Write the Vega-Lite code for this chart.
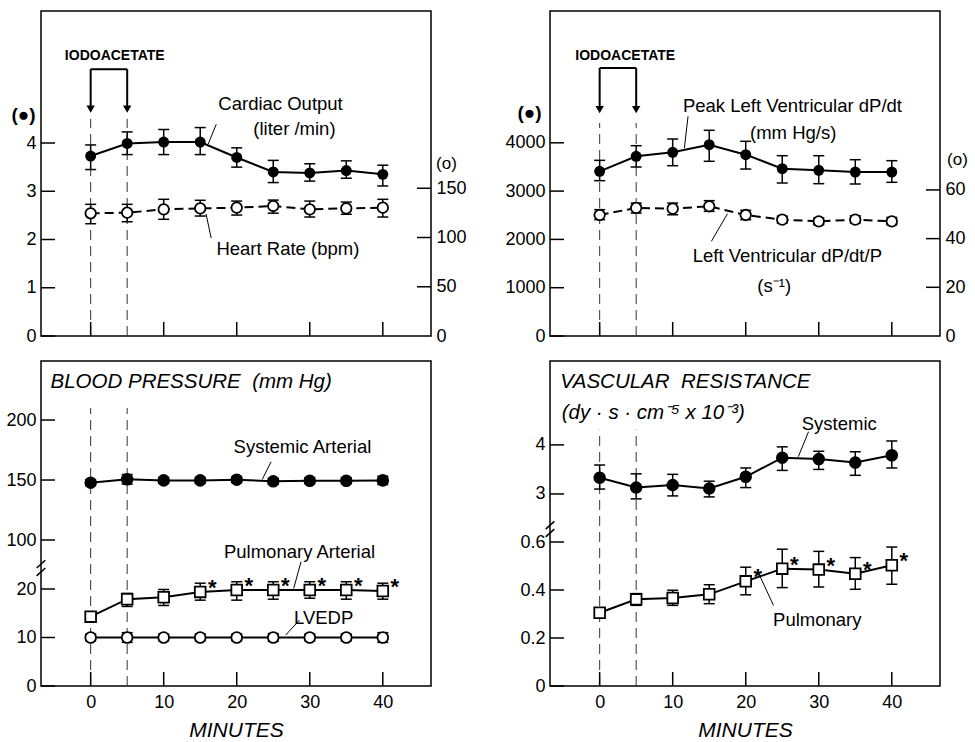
{
"$schema":"https://vega.github.io/schema/vega-lite/v6.json",
"padding":{"left":5,"top":10,"right":5,"bottom":2},
"bounds":"flush",
"columns":2,
"spacing":{"row":25,"column":119},
"datasets":{
"co":[{"t":0,"v":3.73,"lo":3.45,"hi":3.96},{"t":5,"v":3.99,"lo":3.76,"hi":4.23},{"t":10,"v":4.02,"lo":3.76,"hi":4.28},{"t":15,"v":4.02,"lo":3.76,"hi":4.32},{"t":20,"v":3.70,"lo":3.50,"hi":3.90},{"t":25,"v":3.40,"lo":3.18,"hi":3.64},{"t":30,"v":3.38,"lo":3.21,"hi":3.57},{"t":35,"v":3.43,"lo":3.27,"hi":3.63},{"t":40,"v":3.35,"lo":3.11,"hi":3.54}],
"hr":[{"t":0,"v":124.6,"lo":114,"hi":133.7},{"t":5,"v":125.2,"lo":116,"hi":133.7},{"t":10,"v":128.6,"lo":118.5,"hi":138.8},{"t":15,"v":129.6,"lo":121.8,"hi":137.8},{"t":20,"v":130.3,"lo":122.8,"hi":137},{"t":25,"v":132,"lo":124.7,"hi":138},{"t":30,"v":128.6,"lo":120.8,"hi":137},{"t":35,"v":129.6,"lo":123.6,"hi":136},{"t":40,"v":130.3,"lo":120.8,"hi":138.8}],
"dp":[{"t":0,"v":3410,"lo":3216,"hi":3637},{"t":5,"v":3720,"lo":3499,"hi":3940},{"t":10,"v":3803,"lo":3526,"hi":4079},{"t":15,"v":3961,"lo":3617,"hi":4259},{"t":20,"v":3754,"lo":3457,"hi":4031},{"t":25,"v":3464,"lo":3168,"hi":3733},{"t":30,"v":3430,"lo":3154,"hi":3733},{"t":35,"v":3395,"lo":3147,"hi":3650},{"t":40,"v":3395,"lo":3182,"hi":3630}],
"dpp":[{"t":0,"v":49.7,"lo":47.8,"hi":51.9},{"t":5,"v":52.6,"lo":50.5,"hi":54.6},{"t":10,"v":52.3,"lo":49.8,"hi":54.6},{"t":15,"v":53.3,"lo":51.2,"hi":55.6},{"t":20,"v":49.7,"lo":47.8,"hi":51.6},{"t":25,"v":47.8,"lo":46.4,"hi":49.2},{"t":30,"v":47.1,"lo":45.7,"hi":48.5},{"t":35,"v":47.8,"lo":46.4,"hi":49.4},{"t":40,"v":47.1,"lo":45.7,"hi":48.7}],
"bl":[
{"s":"sa","t":0,"v":147.8,"lo":145.3,"hi":150.3},{"s":"sa","t":5,"v":150.6,"lo":146.6,"hi":154.6},{"s":"sa","t":10,"v":149.7,"lo":147.2,"hi":152.2},{"s":"sa","t":15,"v":149.7,"lo":147.2,"hi":152.2},{"s":"sa","t":20,"v":150.3,"lo":147.8,"hi":152.8},{"s":"sa","t":25,"v":148.9,"lo":146.4,"hi":151.4},{"s":"sa","t":30,"v":149.4,"lo":146.9,"hi":151.9},{"s":"sa","t":35,"v":149.4,"lo":146.9,"hi":151.9},{"s":"sa","t":40,"v":149.7,"lo":146.2,"hi":153.2},
{"s":"pa","t":0,"v":14.3,"lo":13.6,"hi":15.0},{"s":"pa","t":5,"v":17.9,"lo":16.4,"hi":19.1},{"s":"pa","t":10,"v":18.3,"lo":16.6,"hi":19.9},{"s":"pa","t":15,"v":19.4,"lo":17.7,"hi":21.2},{"s":"pa","t":20,"v":19.8,"lo":17.7,"hi":21.5},{"s":"pa","t":25,"v":19.8,"lo":17.9,"hi":21.5},{"s":"pa","t":30,"v":19.8,"lo":18.1,"hi":21.5},{"s":"pa","t":35,"v":19.8,"lo":17.9,"hi":21.5},{"s":"pa","t":40,"v":19.6,"lo":17.9,"hi":21.2},
{"s":"lv","t":0,"v":10.0,"lo":9.3,"hi":10.7},{"s":"lv","t":5,"v":10.0,"lo":9.0,"hi":11.0},{"s":"lv","t":10,"v":10.0,"lo":9.3,"hi":10.7},{"s":"lv","t":15,"v":10.0,"lo":9.3,"hi":10.7},{"s":"lv","t":20,"v":10.0,"lo":9.3,"hi":10.7},{"s":"lv","t":25,"v":10.0,"lo":9.2,"hi":10.8},{"s":"lv","t":30,"v":10.0,"lo":9.3,"hi":10.7},{"s":"lv","t":35,"v":10.0,"lo":9.3,"hi":10.7},{"s":"lv","t":40,"v":10.0,"lo":9.0,"hi":11.0}],
"br":[
{"s":"sr","t":0,"v":3.33,"lo":3.10,"hi":3.59},{"s":"sr","t":5,"v":3.13,"lo":2.90,"hi":3.41},{"s":"sr","t":10,"v":3.18,"lo":2.96,"hi":3.40},{"s":"sr","t":15,"v":3.11,"lo":2.94,"hi":3.26},{"s":"sr","t":20,"v":3.35,"lo":3.13,"hi":3.53},{"s":"sr","t":25,"v":3.74,"lo":3.48,"hi":3.96},{"s":"sr","t":30,"v":3.71,"lo":3.50,"hi":3.87},{"s":"sr","t":35,"v":3.64,"lo":3.38,"hi":3.86},{"s":"sr","t":40,"v":3.79,"lo":3.53,"hi":4.08},
{"s":"pr","t":0,"v":0.305,"lo":0.295,"hi":0.315},{"s":"pr","t":5,"v":0.361,"lo":0.336,"hi":0.385},{"s":"pr","t":10,"v":0.367,"lo":0.336,"hi":0.399},{"s":"pr","t":15,"v":0.382,"lo":0.343,"hi":0.422},{"s":"pr","t":20,"v":0.436,"lo":0.380,"hi":0.495},{"s":"pr","t":25,"v":0.489,"lo":0.410,"hi":0.570},{"s":"pr","t":30,"v":0.485,"lo":0.4125,"hi":0.561},{"s":"pr","t":35,"v":0.468,"lo":0.403,"hi":0.535},{"s":"pr","t":40,"v":0.503,"lo":0.424,"hi":0.579}],
"xt":[{"t":0,"v":0},{"t":10,"v":0},{"t":20,"v":0},{"t":30,"v":0},{"t":40,"v":0}],
"tl_yt":[{"t":-6.8,"v":0},{"t":-6.8,"v":1},{"t":-6.8,"v":2},{"t":-6.8,"v":3},{"t":-6.8,"v":4}],
"tl_rt":[{"t":46.6,"v":50},{"t":46.6,"v":100},{"t":46.6,"v":150}],
"tr_yt":[{"t":-6.8,"v":0},{"t":-6.8,"v":1000},{"t":-6.8,"v":2000},{"t":-6.8,"v":3000},{"t":-6.8,"v":4000}],
"tr_rt":[{"t":46.6,"v":20},{"t":46.6,"v":40},{"t":46.6,"v":60}],
"bl_yt":[{"t":-6.8,"v":0},{"t":-6.8,"v":10},{"t":-6.8,"v":20},{"t":-6.8,"v":100},{"t":-6.8,"v":150},{"t":-6.8,"v":200}],
"br_yt":[{"t":-6.8,"v":0},{"t":-6.8,"v":0.2},{"t":-6.8,"v":0.4},{"t":-6.8,"v":0.6},{"t":-6.8,"v":3},{"t":-6.8,"v":4}],
"tl_dash":[{"t":0,"v":0,"v2":4.5},{"t":5,"v":0,"v2":4.5}],
"tl_bracket":[{"t":0,"v":5.53,"t2":5,"v2":5.53},{"t":0,"v":5.53,"t2":0,"v2":4.75},{"t":5,"v":5.53,"t2":5,"v2":4.75}],
"tl_arrow":[{"t":0,"v":4.7},{"t":5,"v":4.7}],
"tl_lead":[{"t":17.2,"v":4.39,"t2":16.1,"v2":3.98},{"t":15.8,"v":2.53,"t2":16.5,"v2":2.03}],
"tl_text":[{"t":26,"v":4.81,"label":"Cardiac Output"},{"t":27.9,"v":4.29,"label":"(liter /min)"},{"t":27,"v":1.80,"label":"Heart Rate (bpm)"}],
"tl_iodo":[{"t":3.3,"v":5.80,"label":"IODOACETATE"}],
"tr_dash":[{"t":0,"v":0,"v2":4410},{"t":5,"v":0,"v2":4410}],
"tr_bracket":[{"t":0,"v":5549,"t2":5,"v2":5549},{"t":0,"v":5549,"t2":0,"v2":4750},{"t":5,"v":5549,"t2":5,"v2":4750}],
"tr_arrow":[{"t":0,"v":4686},{"t":5,"v":4686}],
"tr_lead":[{"t":12.1,"v":4549,"t2":11.6,"v2":3892},{"t":17.5,"v":2532,"t2":15.3,"v2":1961}],
"tr_text":[{"t":26.4,"v":4762,"label":"Peak Left Ventricular dP/dt"},{"t":26.5,"v":4203,"label":"(mm Hg/s)"},{"t":25.7,"v":1656,"label":"Left Ventricular dP/dt/P"},{"t":23.9,"v":1035,"label":"(s⁻¹)"}],
"tr_iodo":[{"t":3.5,"v":5791,"label":"IODOACETATE"}],
"bl_dash":[{"t":0,"v":0,"v2":210},{"t":5,"v":0,"v2":210}],
"bl_lead":[{"t":24.7,"v":165.2,"t2":23.5,"v2":150.6},{"t":28.8,"v":81.9,"t2":27.8,"v2":20.1},{"t":28.6,"v":13.6,"t2":26.7,"v2":10.5}],
"bl_text":[{"t":29,"v":177.8,"label":"Systemic Arterial"},{"t":28.6,"v":90.3,"label":"Pulmonary Arterial"},{"t":31.9,"v":14.0,"label":"LVEDP"}],
"bl_head":[{"t":-5.5,"v":232,"label":"BLOOD PRESSURE \u00a0(mm Hg)"}],
"bl_break":[{"t":-6.8,"v":50}],
"br_dash":[{"t":0,"v":0,"v2":4.31},{"t":5,"v":0,"v2":4.31}],
"br_lead":[{"t":28.6,"v":4.27,"t2":27.2,"v2":3.76},{"t":23.8,"v":0.336,"t2":22.0,"v2":0.454}],
"br_text":[{"t":32.8,"v":4.43,"label":"Systemic"},{"t":29.8,"v":0.274,"label":"Pulmonary"}],
"br_head":[{"t":-5.4,"v":5.29,"label":"VASCULAR \u00a0RESISTANCE"},{"t":-5.2,"v":4.64,"label":"(dy · s · cm⁻⁵ x 10⁻³)"}],
"br_break":[{"t":-6.8,"v":1.5}]
},
"concat":[
{
"width":390,"height":325,
"encoding":{"x":{"field":"t","type":"quantitative","scale":{"domain":[-6.8,46.6],"nice":false,"zero":false},"axis":{"values":[0,10,20,30,40],"labels":false,"title":null}}},
"layer":[
 {"layer":[
  {"data":{"name":"tl_dash"},"mark":{"type":"rule","strokeDash":[10,6],"strokeWidth":1,"color":"#333"},"encoding":{"y":{"field":"v","type":"quantitative","scale":{"domain":[0,6.736],"nice":false,"zero":false},"axis":{"values":[0,1,2,3,4],"title":"(●)","titleAngle":0,"titleX":-18,"titleY":103,"titleAlign":"center","titleBaseline":"middle","titleFontSize":19,"titleFontWeight":"bold"}},"y2":{"field":"v2"}}},
  {"data":{"name":"tl_yt"},"mark":{"type":"point","shape":"M0,0L1,0","size":784,"filled":false,"stroke":"black","strokeWidth":1.5,"opacity":1},"encoding":{"y":{"field":"v","type":"quantitative","scale":{"domain":[0,6.736],"nice":false,"zero":false},"axis":{"values":[0,1,2,3,4],"title":"(●)","titleAngle":0,"titleX":-18,"titleY":103,"titleAlign":"center","titleBaseline":"middle","titleFontSize":19,"titleFontWeight":"bold"}}}},
  {"data":{"name":"xt"},"mark":{"type":"point","shape":"M0,0L0,-1","size":784,"filled":false,"stroke":"black","strokeWidth":1.5,"opacity":1},"encoding":{"y":{"field":"v","type":"quantitative","scale":{"domain":[0,6.736],"nice":false,"zero":false},"axis":{"values":[0,1,2,3,4],"title":"(●)","titleAngle":0,"titleX":-18,"titleY":103,"titleAlign":"center","titleBaseline":"middle","titleFontSize":19,"titleFontWeight":"bold"}}}},
  {"data":{"name":"tl_bracket"},"mark":{"type":"rule","strokeWidth":2,"color":"black"},"encoding":{"x2":{"field":"t2"},"y":{"field":"v","type":"quantitative","scale":{"domain":[0,6.736],"nice":false,"zero":false},"axis":{"values":[0,1,2,3,4],"title":"(●)","titleAngle":0,"titleX":-18,"titleY":103,"titleAlign":"center","titleBaseline":"middle","titleFontSize":19,"titleFontWeight":"bold"}},"y2":{"field":"v2"}}},
  {"data":{"name":"tl_arrow"},"mark":{"type":"point","shape":"triangle-down","filled":true,"color":"black","size":70,"opacity":1},"encoding":{"y":{"field":"v","type":"quantitative","scale":{"domain":[0,6.736],"nice":false,"zero":false},"axis":{"values":[0,1,2,3,4],"title":"(●)","titleAngle":0,"titleX":-18,"titleY":103,"titleAlign":"center","titleBaseline":"middle","titleFontSize":19,"titleFontWeight":"bold"}}}},
  {"data":{"name":"tl_lead"},"mark":{"type":"rule","strokeWidth":1,"color":"black"},"encoding":{"x2":{"field":"t2"},"y":{"field":"v","type":"quantitative","scale":{"domain":[0,6.736],"nice":false,"zero":false},"axis":{"values":[0,1,2,3,4],"title":"(●)","titleAngle":0,"titleX":-18,"titleY":103,"titleAlign":"center","titleBaseline":"middle","titleFontSize":19,"titleFontWeight":"bold"}},"y2":{"field":"v2"}}},
  {"data":{"name":"co"},"mark":{"type":"line","strokeWidth":2,"color":"black"},"encoding":{"y":{"field":"v","type":"quantitative","scale":{"domain":[0,6.736],"nice":false,"zero":false},"axis":{"values":[0,1,2,3,4],"title":"(●)","titleAngle":0,"titleX":-18,"titleY":103,"titleAlign":"center","titleBaseline":"middle","titleFontSize":19,"titleFontWeight":"bold"}}}},
  {"data":{"name":"co"},"mark":{"type":"rule","strokeWidth":1.5,"color":"black"},"encoding":{"y":{"field":"lo","type":"quantitative","scale":{"domain":[0,6.736],"nice":false,"zero":false},"axis":{"values":[0,1,2,3,4],"title":"(●)","titleAngle":0,"titleX":-18,"titleY":103,"titleAlign":"center","titleBaseline":"middle","titleFontSize":19,"titleFontWeight":"bold"}},"y2":{"field":"hi"}}},
  {"data":{"name":"co"},"mark":{"type":"point","shape":"M-1,0L1,0","size":121,"filled":false,"stroke":"black","strokeWidth":1.5,"opacity":1},"encoding":{"y":{"field":"lo","type":"quantitative","scale":{"domain":[0,6.736],"nice":false,"zero":false},"axis":{"values":[0,1,2,3,4],"title":"(●)","titleAngle":0,"titleX":-18,"titleY":103,"titleAlign":"center","titleBaseline":"middle","titleFontSize":19,"titleFontWeight":"bold"}}}},
  {"data":{"name":"co"},"mark":{"type":"point","shape":"M-1,0L1,0","size":121,"filled":false,"stroke":"black","strokeWidth":1.5,"opacity":1},"encoding":{"y":{"field":"hi","type":"quantitative","scale":{"domain":[0,6.736],"nice":false,"zero":false},"axis":{"values":[0,1,2,3,4],"title":"(●)","titleAngle":0,"titleX":-18,"titleY":103,"titleAlign":"center","titleBaseline":"middle","titleFontSize":19,"titleFontWeight":"bold"}}}},
  {"data":{"name":"co"},"mark":{"type":"point","shape":"circle","size":120,"filled":true,"color":"black","opacity":1},"encoding":{"y":{"field":"v","type":"quantitative","scale":{"domain":[0,6.736],"nice":false,"zero":false},"axis":{"values":[0,1,2,3,4],"title":"(●)","titleAngle":0,"titleX":-18,"titleY":103,"titleAlign":"center","titleBaseline":"middle","titleFontSize":19,"titleFontWeight":"bold"}}}},
  {"data":{"name":"tl_text"},"mark":{"type":"text","fontSize":18.5,"align":"center","baseline":"middle"},"encoding":{"y":{"field":"v","type":"quantitative","scale":{"domain":[0,6.736],"nice":false,"zero":false},"axis":{"values":[0,1,2,3,4],"title":"(●)","titleAngle":0,"titleX":-18,"titleY":103,"titleAlign":"center","titleBaseline":"middle","titleFontSize":19,"titleFontWeight":"bold"}},"text":{"field":"label"}}},
  {"data":{"name":"tl_iodo"},"mark":{"type":"text","fontSize":14,"fontWeight":"bold","align":"center","baseline":"middle"},"encoding":{"y":{"field":"v","type":"quantitative","scale":{"domain":[0,6.736],"nice":false,"zero":false},"axis":{"values":[0,1,2,3,4],"title":"(●)","titleAngle":0,"titleX":-18,"titleY":103,"titleAlign":"center","titleBaseline":"middle","titleFontSize":19,"titleFontWeight":"bold"}},"text":{"field":"label"}}}
 ]},
 {"layer":[
  {"data":{"name":"hr"},"mark":{"type":"line","strokeWidth":2,"color":"black","strokeDash":[9,5]},"encoding":{"y":{"field":"v","type":"quantitative","scale":{"domain":[0,330],"nice":false,"zero":false},"axis":{"orient":"right","values":[0,50,100,150],"title":"(o)","titleAngle":0,"titleX":15,"titleY":152,"titleAlign":"center","titleBaseline":"middle","titleFontSize":17}}}},
  {"data":{"name":"tl_rt"},"mark":{"type":"point","shape":"M0,0L-1,0","size":784,"filled":false,"stroke":"black","strokeWidth":1.5,"opacity":1},"encoding":{"y":{"field":"v","type":"quantitative","scale":{"domain":[0,330],"nice":false,"zero":false},"axis":{"orient":"right","values":[0,50,100,150],"title":"(o)","titleAngle":0,"titleX":15,"titleY":152,"titleAlign":"center","titleBaseline":"middle","titleFontSize":17}}}},
  {"data":{"name":"hr"},"mark":{"type":"rule","strokeWidth":1.5,"color":"black"},"encoding":{"y":{"field":"lo","type":"quantitative","scale":{"domain":[0,330],"nice":false,"zero":false},"axis":{"orient":"right","values":[0,50,100,150],"title":"(o)","titleAngle":0,"titleX":15,"titleY":152,"titleAlign":"center","titleBaseline":"middle","titleFontSize":17}},"y2":{"field":"hi"}}},
  {"data":{"name":"hr"},"mark":{"type":"point","shape":"M-1,0L1,0","size":121,"filled":false,"stroke":"black","strokeWidth":1.5,"opacity":1},"encoding":{"y":{"field":"lo","type":"quantitative","scale":{"domain":[0,330],"nice":false,"zero":false},"axis":{"orient":"right","values":[0,50,100,150],"title":"(o)","titleAngle":0,"titleX":15,"titleY":152,"titleAlign":"center","titleBaseline":"middle","titleFontSize":17}}}},
  {"data":{"name":"hr"},"mark":{"type":"point","shape":"M-1,0L1,0","size":121,"filled":false,"stroke":"black","strokeWidth":1.5,"opacity":1},"encoding":{"y":{"field":"hi","type":"quantitative","scale":{"domain":[0,330],"nice":false,"zero":false},"axis":{"orient":"right","values":[0,50,100,150],"title":"(o)","titleAngle":0,"titleX":15,"titleY":152,"titleAlign":"center","titleBaseline":"middle","titleFontSize":17}}}},
  {"data":{"name":"hr"},"mark":{"type":"point","shape":"circle","size":110,"filled":true,"fill":"white","stroke":"black","strokeWidth":1.8,"opacity":1},"encoding":{"y":{"field":"v","type":"quantitative","scale":{"domain":[0,330],"nice":false,"zero":false},"axis":{"orient":"right","values":[0,50,100,150],"title":"(o)","titleAngle":0,"titleX":15,"titleY":152,"titleAlign":"center","titleBaseline":"middle","titleFontSize":17}}}}
 ]}
],
"resolve":{"scale":{"y":"independent"}}
},
{
"width":390,"height":325,
"encoding":{"x":{"field":"t","type":"quantitative","scale":{"domain":[-6.8,46.6],"nice":false,"zero":false},"axis":{"values":[0,10,20,30,40],"labels":false,"title":null}}},
"layer":[
 {"layer":[
  {"data":{"name":"tr_dash"},"mark":{"type":"rule","strokeDash":[10,6],"strokeWidth":1,"color":"#333"},"encoding":{"y":{"field":"v","type":"quantitative","scale":{"domain":[0,6729],"nice":false,"zero":false},"axis":{"values":[0,1000,2000,3000,4000],"format":"d","title":"(●)","titleAngle":0,"titleX":-21,"titleY":101,"titleAlign":"center","titleBaseline":"middle","titleFontSize":19,"titleFontWeight":"bold"}},"y2":{"field":"v2"}}},
  {"data":{"name":"tr_yt"},"mark":{"type":"point","shape":"M0,0L1,0","size":784,"filled":false,"stroke":"black","strokeWidth":1.5,"opacity":1},"encoding":{"y":{"field":"v","type":"quantitative","scale":{"domain":[0,6729],"nice":false,"zero":false},"axis":{"values":[0,1000,2000,3000,4000],"format":"d","title":"(●)","titleAngle":0,"titleX":-21,"titleY":101,"titleAlign":"center","titleBaseline":"middle","titleFontSize":19,"titleFontWeight":"bold"}}}},
  {"data":{"name":"xt"},"mark":{"type":"point","shape":"M0,0L0,-1","size":784,"filled":false,"stroke":"black","strokeWidth":1.5,"opacity":1},"encoding":{"y":{"field":"v","type":"quantitative","scale":{"domain":[0,6729],"nice":false,"zero":false},"axis":{"values":[0,1000,2000,3000,4000],"format":"d","title":"(●)","titleAngle":0,"titleX":-21,"titleY":101,"titleAlign":"center","titleBaseline":"middle","titleFontSize":19,"titleFontWeight":"bold"}}}},
  {"data":{"name":"tr_bracket"},"mark":{"type":"rule","strokeWidth":2,"color":"black"},"encoding":{"x2":{"field":"t2"},"y":{"field":"v","type":"quantitative","scale":{"domain":[0,6729],"nice":false,"zero":false},"axis":{"values":[0,1000,2000,3000,4000],"format":"d","title":"(●)","titleAngle":0,"titleX":-21,"titleY":101,"titleAlign":"center","titleBaseline":"middle","titleFontSize":19,"titleFontWeight":"bold"}},"y2":{"field":"v2"}}},
  {"data":{"name":"tr_arrow"},"mark":{"type":"point","shape":"triangle-down","filled":true,"color":"black","size":70,"opacity":1},"encoding":{"y":{"field":"v","type":"quantitative","scale":{"domain":[0,6729],"nice":false,"zero":false},"axis":{"values":[0,1000,2000,3000,4000],"format":"d","title":"(●)","titleAngle":0,"titleX":-21,"titleY":101,"titleAlign":"center","titleBaseline":"middle","titleFontSize":19,"titleFontWeight":"bold"}}}},
  {"data":{"name":"tr_lead"},"mark":{"type":"rule","strokeWidth":1,"color":"black"},"encoding":{"x2":{"field":"t2"},"y":{"field":"v","type":"quantitative","scale":{"domain":[0,6729],"nice":false,"zero":false},"axis":{"values":[0,1000,2000,3000,4000],"format":"d","title":"(●)","titleAngle":0,"titleX":-21,"titleY":101,"titleAlign":"center","titleBaseline":"middle","titleFontSize":19,"titleFontWeight":"bold"}},"y2":{"field":"v2"}}},
  {"data":{"name":"dp"},"mark":{"type":"line","strokeWidth":2,"color":"black"},"encoding":{"y":{"field":"v","type":"quantitative","scale":{"domain":[0,6729],"nice":false,"zero":false},"axis":{"values":[0,1000,2000,3000,4000],"format":"d","title":"(●)","titleAngle":0,"titleX":-21,"titleY":101,"titleAlign":"center","titleBaseline":"middle","titleFontSize":19,"titleFontWeight":"bold"}}}},
  {"data":{"name":"dp"},"mark":{"type":"rule","strokeWidth":1.5,"color":"black"},"encoding":{"y":{"field":"lo","type":"quantitative","scale":{"domain":[0,6729],"nice":false,"zero":false},"axis":{"values":[0,1000,2000,3000,4000],"format":"d","title":"(●)","titleAngle":0,"titleX":-21,"titleY":101,"titleAlign":"center","titleBaseline":"middle","titleFontSize":19,"titleFontWeight":"bold"}},"y2":{"field":"hi"}}},
  {"data":{"name":"dp"},"mark":{"type":"point","shape":"M-1,0L1,0","size":121,"filled":false,"stroke":"black","strokeWidth":1.5,"opacity":1},"encoding":{"y":{"field":"lo","type":"quantitative","scale":{"domain":[0,6729],"nice":false,"zero":false},"axis":{"values":[0,1000,2000,3000,4000],"format":"d","title":"(●)","titleAngle":0,"titleX":-21,"titleY":101,"titleAlign":"center","titleBaseline":"middle","titleFontSize":19,"titleFontWeight":"bold"}}}},
  {"data":{"name":"dp"},"mark":{"type":"point","shape":"M-1,0L1,0","size":121,"filled":false,"stroke":"black","strokeWidth":1.5,"opacity":1},"encoding":{"y":{"field":"hi","type":"quantitative","scale":{"domain":[0,6729],"nice":false,"zero":false},"axis":{"values":[0,1000,2000,3000,4000],"format":"d","title":"(●)","titleAngle":0,"titleX":-21,"titleY":101,"titleAlign":"center","titleBaseline":"middle","titleFontSize":19,"titleFontWeight":"bold"}}}},
  {"data":{"name":"dp"},"mark":{"type":"point","shape":"circle","size":120,"filled":true,"color":"black","opacity":1},"encoding":{"y":{"field":"v","type":"quantitative","scale":{"domain":[0,6729],"nice":false,"zero":false},"axis":{"values":[0,1000,2000,3000,4000],"format":"d","title":"(●)","titleAngle":0,"titleX":-21,"titleY":101,"titleAlign":"center","titleBaseline":"middle","titleFontSize":19,"titleFontWeight":"bold"}}}},
  {"data":{"name":"tr_text"},"mark":{"type":"text","fontSize":18.5,"align":"center","baseline":"middle"},"encoding":{"y":{"field":"v","type":"quantitative","scale":{"domain":[0,6729],"nice":false,"zero":false},"axis":{"values":[0,1000,2000,3000,4000],"format":"d","title":"(●)","titleAngle":0,"titleX":-21,"titleY":101,"titleAlign":"center","titleBaseline":"middle","titleFontSize":19,"titleFontWeight":"bold"}},"text":{"field":"label"}}},
  {"data":{"name":"tr_iodo"},"mark":{"type":"text","fontSize":14,"fontWeight":"bold","align":"center","baseline":"middle"},"encoding":{"y":{"field":"v","type":"quantitative","scale":{"domain":[0,6729],"nice":false,"zero":false},"axis":{"values":[0,1000,2000,3000,4000],"format":"d","title":"(●)","titleAngle":0,"titleX":-21,"titleY":101,"titleAlign":"center","titleBaseline":"middle","titleFontSize":19,"titleFontWeight":"bold"}},"text":{"field":"label"}}}
 ]},
 {"layer":[
  {"data":{"name":"dpp"},"mark":{"type":"line","strokeWidth":2,"color":"black","strokeDash":[9,5]},"encoding":{"y":{"field":"v","type":"quantitative","scale":{"domain":[0,133.5],"nice":false,"zero":false},"axis":{"orient":"right","values":[0,20,40,60],"title":"(o)","titleAngle":0,"titleX":17,"titleY":148,"titleAlign":"center","titleBaseline":"middle","titleFontSize":17}}}},
  {"data":{"name":"tr_rt"},"mark":{"type":"point","shape":"M0,0L-1,0","size":784,"filled":false,"stroke":"black","strokeWidth":1.5,"opacity":1},"encoding":{"y":{"field":"v","type":"quantitative","scale":{"domain":[0,133.5],"nice":false,"zero":false},"axis":{"orient":"right","values":[0,20,40,60],"title":"(o)","titleAngle":0,"titleX":17,"titleY":148,"titleAlign":"center","titleBaseline":"middle","titleFontSize":17}}}},
  {"data":{"name":"dpp"},"mark":{"type":"rule","strokeWidth":1.5,"color":"black"},"encoding":{"y":{"field":"lo","type":"quantitative","scale":{"domain":[0,133.5],"nice":false,"zero":false},"axis":{"orient":"right","values":[0,20,40,60],"title":"(o)","titleAngle":0,"titleX":17,"titleY":148,"titleAlign":"center","titleBaseline":"middle","titleFontSize":17}},"y2":{"field":"hi"}}},
  {"data":{"name":"dpp"},"mark":{"type":"point","shape":"M-1,0L1,0","size":121,"filled":false,"stroke":"black","strokeWidth":1.5,"opacity":1},"encoding":{"y":{"field":"lo","type":"quantitative","scale":{"domain":[0,133.5],"nice":false,"zero":false},"axis":{"orient":"right","values":[0,20,40,60],"title":"(o)","titleAngle":0,"titleX":17,"titleY":148,"titleAlign":"center","titleBaseline":"middle","titleFontSize":17}}}},
  {"data":{"name":"dpp"},"mark":{"type":"point","shape":"M-1,0L1,0","size":121,"filled":false,"stroke":"black","strokeWidth":1.5,"opacity":1},"encoding":{"y":{"field":"hi","type":"quantitative","scale":{"domain":[0,133.5],"nice":false,"zero":false},"axis":{"orient":"right","values":[0,20,40,60],"title":"(o)","titleAngle":0,"titleX":17,"titleY":148,"titleAlign":"center","titleBaseline":"middle","titleFontSize":17}}}},
  {"data":{"name":"dpp"},"mark":{"type":"point","shape":"circle","size":110,"filled":true,"fill":"white","stroke":"black","strokeWidth":1.8,"opacity":1},"encoding":{"y":{"field":"v","type":"quantitative","scale":{"domain":[0,133.5],"nice":false,"zero":false},"axis":{"orient":"right","values":[0,20,40,60],"title":"(o)","titleAngle":0,"titleX":17,"titleY":148,"titleAlign":"center","titleBaseline":"middle","titleFontSize":17}}}}
 ]}
],
"resolve":{"scale":{"y":"independent"}}
},
{
"width":390,"height":325,
"encoding":{"x":{"field":"t","type":"quantitative","scale":{"domain":[-6.8,46.6],"nice":false,"zero":false},"axis":{"values":[0,10,20,30,40],"labelPadding":7,"title":"MINUTES","titleFontStyle":"italic","titleFontSize":21,"titleY":44,"titleBaseline":"middle"}}},
"layer":[
  {"data":{"name":"bl_dash"},"mark":{"type":"rule","strokeDash":[10,6],"strokeWidth":1,"color":"#333"},"encoding":{"y":{"field":"v","type":"quantitative","scale":{"type":"linear","domain":[0,24,78,249.2],"range":[325,208.6,205.4,0],"nice":false,"zero":false},"axis":{"values":[0,10,20,100,150,200],"title":null}},"y2":{"field":"v2"}}},
  {"data":{"name":"bl_yt"},"mark":{"type":"point","shape":"M0,0L1,0","size":784,"filled":false,"stroke":"black","strokeWidth":1.5,"opacity":1},"encoding":{"y":{"field":"v","type":"quantitative","scale":{"type":"linear","domain":[0,24,78,249.2],"range":[325,208.6,205.4,0],"nice":false,"zero":false},"axis":{"values":[0,10,20,100,150,200],"title":null}}}},
  {"data":{"name":"xt"},"mark":{"type":"point","shape":"M0,0L0,-1","size":784,"filled":false,"stroke":"black","strokeWidth":1.5,"opacity":1},"encoding":{"y":{"field":"v","type":"quantitative","scale":{"type":"linear","domain":[0,24,78,249.2],"range":[325,208.6,205.4,0],"nice":false,"zero":false},"axis":{"values":[0,10,20,100,150,200],"title":null}}}},
  {"data":{"name":"bl_break"},"mark":{"type":"point","shape":"M-0.5,0L0.5,-0.9M-0.5,0.9L0.5,0","size":300,"filled":false,"stroke":"black","strokeWidth":1.5,"opacity":1},"encoding":{"y":{"field":"v","type":"quantitative","scale":{"type":"linear","domain":[0,24,78,249.2],"range":[325,208.6,205.4,0],"nice":false,"zero":false},"axis":{"values":[0,10,20,100,150,200],"title":null}}}},
  {"data":{"name":"bl_lead"},"mark":{"type":"rule","strokeWidth":1,"color":"black"},"encoding":{"x2":{"field":"t2"},"y":{"field":"v","type":"quantitative","scale":{"type":"linear","domain":[0,24,78,249.2],"range":[325,208.6,205.4,0],"nice":false,"zero":false},"axis":{"values":[0,10,20,100,150,200],"title":null}},"y2":{"field":"v2"}}},
  {"data":{"name":"bl"},"mark":{"type":"line","strokeWidth":2,"color":"black"},"encoding":{"detail":{"field":"s"},"y":{"field":"v","type":"quantitative","scale":{"type":"linear","domain":[0,24,78,249.2],"range":[325,208.6,205.4,0],"nice":false,"zero":false},"axis":{"values":[0,10,20,100,150,200],"title":null}}}},
  {"data":{"name":"bl"},"mark":{"type":"rule","strokeWidth":1.5,"color":"black"},"encoding":{"y":{"field":"lo","type":"quantitative","scale":{"type":"linear","domain":[0,24,78,249.2],"range":[325,208.6,205.4,0],"nice":false,"zero":false},"axis":{"values":[0,10,20,100,150,200],"title":null}},"y2":{"field":"hi"}}},
  {"data":{"name":"bl"},"mark":{"type":"point","shape":"M-1,0L1,0","size":121,"filled":false,"stroke":"black","strokeWidth":1.5,"opacity":1},"encoding":{"y":{"field":"lo","type":"quantitative","scale":{"type":"linear","domain":[0,24,78,249.2],"range":[325,208.6,205.4,0],"nice":false,"zero":false},"axis":{"values":[0,10,20,100,150,200],"title":null}}}},
  {"data":{"name":"bl"},"mark":{"type":"point","shape":"M-1,0L1,0","size":121,"filled":false,"stroke":"black","strokeWidth":1.5,"opacity":1},"encoding":{"y":{"field":"hi","type":"quantitative","scale":{"type":"linear","domain":[0,24,78,249.2],"range":[325,208.6,205.4,0],"nice":false,"zero":false},"axis":{"values":[0,10,20,100,150,200],"title":null}}}},
  {"data":{"name":"bl"},"mark":{"type":"point","size":115,"filled":true,"stroke":"black","strokeWidth":1.8,"opacity":1},"encoding":{"shape":{"field":"s","type":"nominal","scale":{"domain":["sa","pa","lv"],"range":["circle","square","circle"]},"legend":null},"fill":{"field":"s","type":"nominal","scale":{"domain":["sa","pa","lv"],"range":["black","white","white"]},"legend":null},"y":{"field":"v","type":"quantitative","scale":{"type":"linear","domain":[0,24,78,249.2],"range":[325,208.6,205.4,0],"nice":false,"zero":false},"axis":{"values":[0,10,20,100,150,200],"title":null}}}},
  {"data":{"name":"bl"},"transform":[{"filter":"datum.s == 'pa' && datum.t >= 15"}],"mark":{"type":"text","text":"*","fontSize":22,"fontWeight":"bold","align":"center","baseline":"middle","dx":12,"dy":-4},"encoding":{"y":{"field":"v","type":"quantitative","scale":{"type":"linear","domain":[0,24,78,249.2],"range":[325,208.6,205.4,0],"nice":false,"zero":false},"axis":{"values":[0,10,20,100,150,200],"title":null}}}},
  {"data":{"name":"bl_text"},"mark":{"type":"text","fontSize":18.5,"align":"center","baseline":"middle"},"encoding":{"y":{"field":"v","type":"quantitative","scale":{"type":"linear","domain":[0,24,78,249.2],"range":[325,208.6,205.4,0],"nice":false,"zero":false},"axis":{"values":[0,10,20,100,150,200],"title":null}},"text":{"field":"label"}}},
  {"data":{"name":"bl_head"},"mark":{"type":"text","fontSize":20.5,"fontStyle":"italic","align":"left","baseline":"middle"},"encoding":{"y":{"field":"v","type":"quantitative","scale":{"type":"linear","domain":[0,24,78,249.2],"range":[325,208.6,205.4,0],"nice":false,"zero":false},"axis":{"values":[0,10,20,100,150,200],"title":null}},"text":{"field":"label"}}}
]
},
{
"width":390,"height":325,
"encoding":{"x":{"field":"t","type":"quantitative","scale":{"domain":[-6.8,46.6],"nice":false,"zero":false},"axis":{"values":[0,10,20,30,40],"labelPadding":7,"title":"MINUTES","titleFontStyle":"italic","titleFontSize":21,"titleY":44,"titleBaseline":"middle"}}},
"layer":[
  {"data":{"name":"br_dash"},"mark":{"type":"rule","strokeDash":[10,6],"strokeWidth":1,"color":"#333"},"encoding":{"y":{"field":"v","type":"quantitative","scale":{"type":"linear","domain":[0,0.65,2.3,5.71],"range":[325,169,167.3,0],"nice":false,"zero":false},"axis":{"values":[0,0.2,0.4,0.6,3,4],"format":"~g","title":null}},"y2":{"field":"v2"}}},
  {"data":{"name":"br_yt"},"mark":{"type":"point","shape":"M0,0L1,0","size":784,"filled":false,"stroke":"black","strokeWidth":1.5,"opacity":1},"encoding":{"y":{"field":"v","type":"quantitative","scale":{"type":"linear","domain":[0,0.65,2.3,5.71],"range":[325,169,167.3,0],"nice":false,"zero":false},"axis":{"values":[0,0.2,0.4,0.6,3,4],"format":"~g","title":null}}}},
  {"data":{"name":"xt"},"mark":{"type":"point","shape":"M0,0L0,-1","size":784,"filled":false,"stroke":"black","strokeWidth":1.5,"opacity":1},"encoding":{"y":{"field":"v","type":"quantitative","scale":{"type":"linear","domain":[0,0.65,2.3,5.71],"range":[325,169,167.3,0],"nice":false,"zero":false},"axis":{"values":[0,0.2,0.4,0.6,3,4],"format":"~g","title":null}}}},
  {"data":{"name":"br_break"},"mark":{"type":"point","shape":"M-0.5,0L0.5,-0.9M-0.5,0.9L0.5,0","size":300,"filled":false,"stroke":"black","strokeWidth":1.5,"opacity":1},"encoding":{"y":{"field":"v","type":"quantitative","scale":{"type":"linear","domain":[0,0.65,2.3,5.71],"range":[325,169,167.3,0],"nice":false,"zero":false},"axis":{"values":[0,0.2,0.4,0.6,3,4],"format":"~g","title":null}}}},
  {"data":{"name":"br_lead"},"mark":{"type":"rule","strokeWidth":1,"color":"black"},"encoding":{"x2":{"field":"t2"},"y":{"field":"v","type":"quantitative","scale":{"type":"linear","domain":[0,0.65,2.3,5.71],"range":[325,169,167.3,0],"nice":false,"zero":false},"axis":{"values":[0,0.2,0.4,0.6,3,4],"format":"~g","title":null}},"y2":{"field":"v2"}}},
  {"data":{"name":"br"},"mark":{"type":"line","strokeWidth":2,"color":"black"},"encoding":{"detail":{"field":"s"},"y":{"field":"v","type":"quantitative","scale":{"type":"linear","domain":[0,0.65,2.3,5.71],"range":[325,169,167.3,0],"nice":false,"zero":false},"axis":{"values":[0,0.2,0.4,0.6,3,4],"format":"~g","title":null}}}},
  {"data":{"name":"br"},"mark":{"type":"rule","strokeWidth":1.5,"color":"black"},"encoding":{"y":{"field":"lo","type":"quantitative","scale":{"type":"linear","domain":[0,0.65,2.3,5.71],"range":[325,169,167.3,0],"nice":false,"zero":false},"axis":{"values":[0,0.2,0.4,0.6,3,4],"format":"~g","title":null}},"y2":{"field":"hi"}}},
  {"data":{"name":"br"},"mark":{"type":"point","shape":"M-1,0L1,0","size":121,"filled":false,"stroke":"black","strokeWidth":1.5,"opacity":1},"encoding":{"y":{"field":"lo","type":"quantitative","scale":{"type":"linear","domain":[0,0.65,2.3,5.71],"range":[325,169,167.3,0],"nice":false,"zero":false},"axis":{"values":[0,0.2,0.4,0.6,3,4],"format":"~g","title":null}}}},
  {"data":{"name":"br"},"mark":{"type":"point","shape":"M-1,0L1,0","size":121,"filled":false,"stroke":"black","strokeWidth":1.5,"opacity":1},"encoding":{"y":{"field":"hi","type":"quantitative","scale":{"type":"linear","domain":[0,0.65,2.3,5.71],"range":[325,169,167.3,0],"nice":false,"zero":false},"axis":{"values":[0,0.2,0.4,0.6,3,4],"format":"~g","title":null}}}},
  {"data":{"name":"br"},"mark":{"type":"point","size":115,"filled":true,"stroke":"black","strokeWidth":1.8,"opacity":1},"encoding":{"shape":{"field":"s","type":"nominal","scale":{"domain":["sr","pr"],"range":["circle","square"]},"legend":null},"fill":{"field":"s","type":"nominal","scale":{"domain":["sr","pr"],"range":["black","white"]},"legend":null},"y":{"field":"v","type":"quantitative","scale":{"type":"linear","domain":[0,0.65,2.3,5.71],"range":[325,169,167.3,0],"nice":false,"zero":false},"axis":{"values":[0,0.2,0.4,0.6,3,4],"format":"~g","title":null}}}},
  {"data":{"name":"br"},"transform":[{"filter":"datum.s == 'pr' && datum.t >= 20"}],"mark":{"type":"text","text":"*","fontSize":22,"fontWeight":"bold","align":"center","baseline":"middle","dx":12,"dy":-4},"encoding":{"y":{"field":"v","type":"quantitative","scale":{"type":"linear","domain":[0,0.65,2.3,5.71],"range":[325,169,167.3,0],"nice":false,"zero":false},"axis":{"values":[0,0.2,0.4,0.6,3,4],"format":"~g","title":null}}}},
  {"data":{"name":"br_text"},"mark":{"type":"text","fontSize":18.5,"align":"center","baseline":"middle"},"encoding":{"y":{"field":"v","type":"quantitative","scale":{"type":"linear","domain":[0,0.65,2.3,5.71],"range":[325,169,167.3,0],"nice":false,"zero":false},"axis":{"values":[0,0.2,0.4,0.6,3,4],"format":"~g","title":null}},"text":{"field":"label"}}},
  {"data":{"name":"br_head"},"mark":{"type":"text","fontSize":20.5,"fontStyle":"italic","align":"left","baseline":"middle"},"encoding":{"y":{"field":"v","type":"quantitative","scale":{"type":"linear","domain":[0,0.65,2.3,5.71],"range":[325,169,167.3,0],"nice":false,"zero":false},"axis":{"values":[0,0.2,0.4,0.6,3,4],"format":"~g","title":null}},"text":{"field":"label"}}}
]
}
],
"config":{
 "font":"Liberation Sans",
 "view":{"stroke":"black","strokeWidth":1.5},
 "axis":{"grid":false,"domain":false,"ticks":false,"labelFont":"Liberation Sans","labelFontSize":18,"labelColor":"black","labelPadding":5,"labelFlush":false,"labelOverlap":false,"titleFont":"Liberation Sans","titleColor":"black","titleFontWeight":"normal"},
 "text":{"font":"Liberation Sans","color":"black"}
}
}
